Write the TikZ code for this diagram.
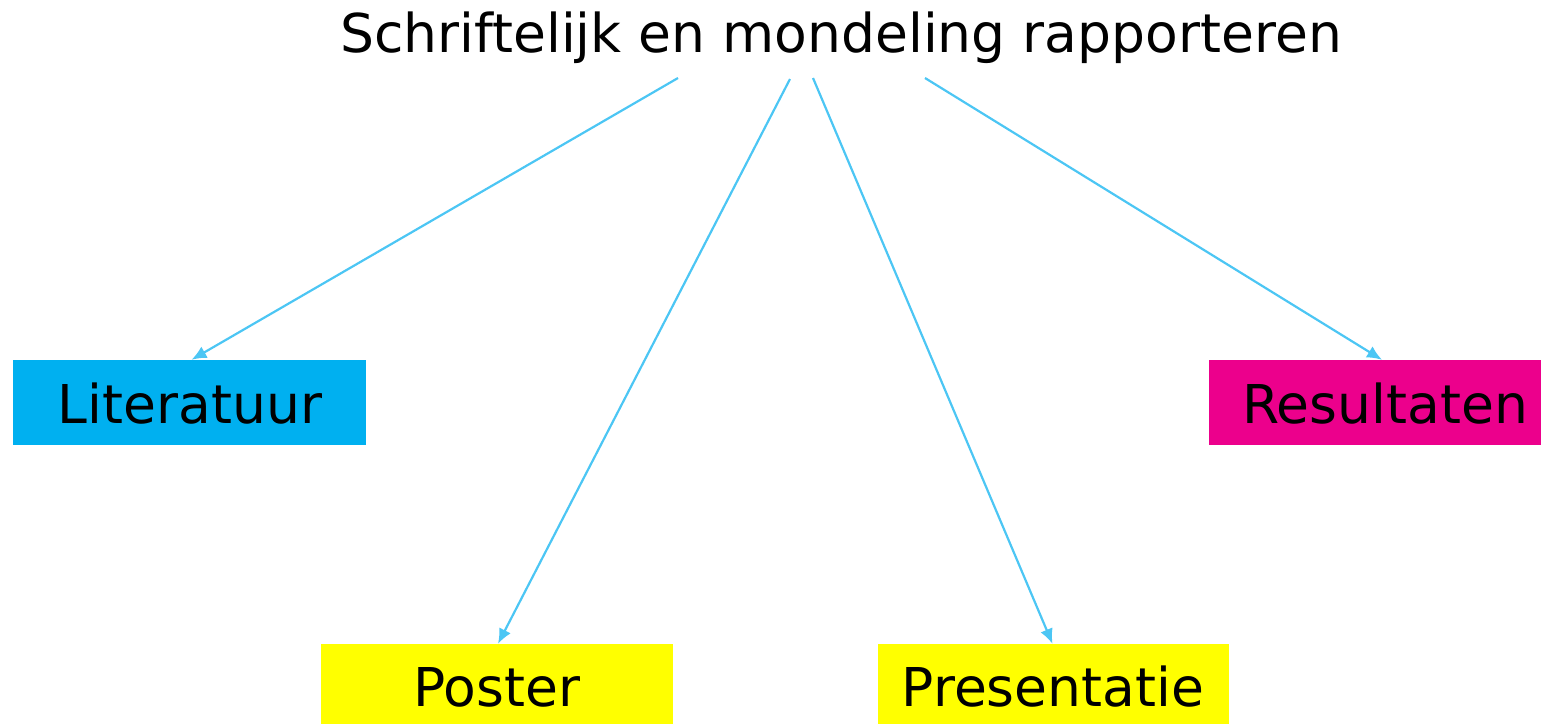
\documentclass[tikz,border=0pt]{standalone}
\usepackage{fontspec}
\setmainfont{DejaVu Sans}
\usetikzlibrary{arrows.meta}
\definecolor{litblue}{HTML}{00B0F0}
\definecolor{resmag}{HTML}{EC008C}
\definecolor{posyel}{HTML}{FFFF00}
\definecolor{arrblue}{HTML}{4CC6F4}
\tikzset{
  box/.style={rectangle, draw=none, inner sep=0pt, minimum height=85pt},
  lbl/.style={anchor=base, inner sep=0pt, font=\fontsize{53.5}{60}\selectfont, text=black},
  arr/.style={draw=arrblue, line width=2.2pt, -{Latex[length=15pt,width=13pt]}},
}
\begin{document}
\begin{tikzpicture}[x=1pt,y=-1pt]
\useasboundingbox (0,0) rectangle (1541,724);
% title
\node[lbl] (title) at (841,52) {Schriftelijk en mondeling rapporteren};
\coordinate (s1) at (678,78);
\coordinate (s2) at (790,79);
\coordinate (s3) at (813,78);
\coordinate (s4) at (925,78);
% boxes
\node[box, fill=litblue, minimum width=353pt] (lit) at (189.5,402.5) {};
\node[box, fill=resmag, minimum width=332pt] (res) at (1375,402.5) {};
\node[box, fill=posyel, minimum width=352pt, minimum height=80pt] (pos) at (497,684) {};
\node[box, fill=posyel, minimum width=351pt, minimum height=80pt] (pre) at (1053.5,684) {};
% labels
\node[lbl] (litT) at (190,423) {Literatuur};
\node[lbl] (resT) at (1385,423) {Resultaten};
\node[lbl] (posT) at (497,706) {Poster};
\node[lbl] (preT) at (1053,706) {Presentatie};
% arrows
\draw[arr] (s1) -- ([xshift=2pt]lit.north);
\draw[arr] (s2) -- ([xshift=1pt]pos.north);
\draw[arr] (s3) -- ([xshift=-1pt]pre.north);
\draw[arr] (s4) -- ([xshift=7pt]res.north);
\end{tikzpicture}
\end{document}
